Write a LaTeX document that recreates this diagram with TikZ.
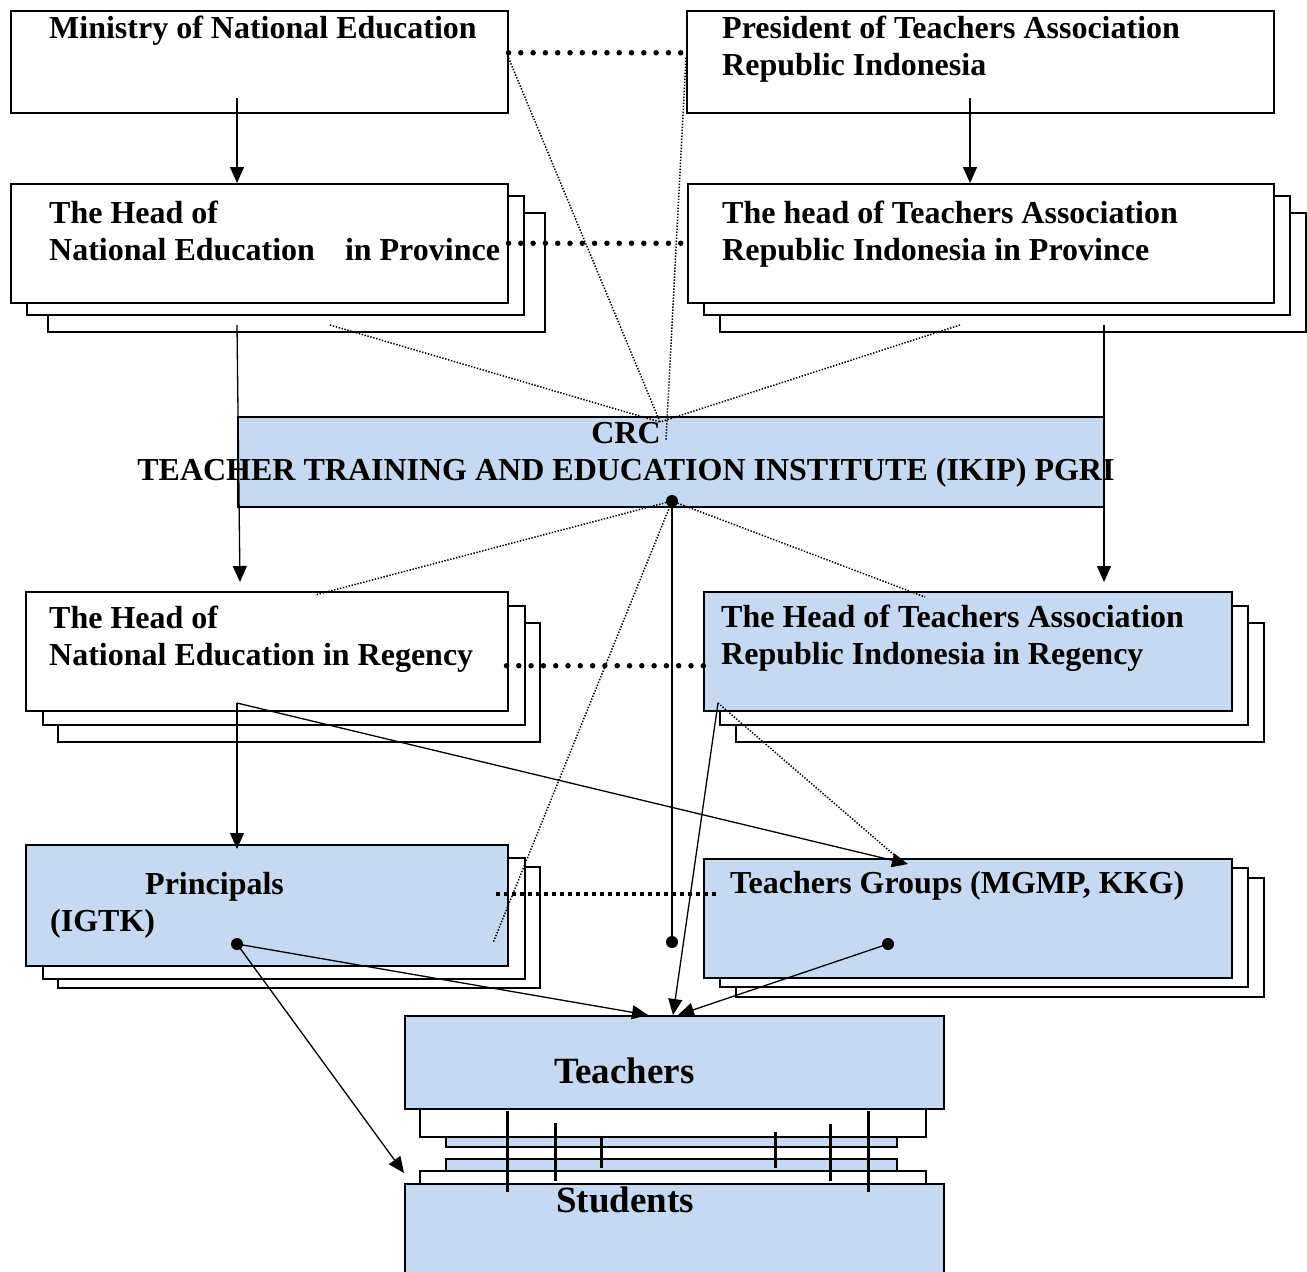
\documentclass[tikz,border=0pt]{standalone}
\usepackage{fontspec}
\setmainfont{Liberation Serif}
\usetikzlibrary{arrows.meta,shadows,positioning}
\definecolor{boxblue}{RGB}{198,217,240}

\begin{document}
\begin{tikzpicture}[x=1pt, y=-1pt,
    box/.style={draw, line width=1.5pt, fill=white, anchor=north west, inner sep=0pt},
    bluebox/.style={box, fill=boxblue},
    every shadow/.style={line width=1.8pt},
    stack/.style n args={4}{
      copy shadow={shadow xshift=#3pt, shadow yshift=-#4pt, fill=white, draw=black, line width=1.8pt},
      copy shadow={shadow xshift=#1pt, shadow yshift=-#2pt, fill=white, draw=black, line width=1.8pt}},
    sheet/.style={line width=1.5pt},
    lbl/.style={anchor=base west, inner sep=0pt, text width=520pt, align=flush left, font=\fontsize{32}{37}\selectfont\bfseries},
    crclbl/.style={anchor=base, inner sep=0pt, text width=1000pt, align=flush center, font=\fontsize{32}{37}\selectfont\bfseries},
    biglbl/.style={anchor=base west, inner sep=0pt, font=\fontsize{37}{40}\selectfont\bfseries},
    dot/.style={circle, fill, inner sep=0pt, minimum size=12pt},
    arr/.style={line width=1.3pt, -{Triangle[length=16pt,width=14pt]}},
    link/.style={line width=1.3pt},
    fine/.style={line width=1.5pt, dash pattern=on 1.4pt off 1.6pt},
    peer/.style={line width=5.5pt, line cap=round, dash pattern=on 0pt off 12.3pt},
    square peer/.style={line width=4pt, dash pattern=on 4pt off 4pt},
    tie/.style={line width=3pt}
  ]
  \useasboundingbox (0,0) rectangle (1307,1272);

  \node[box, minimum width=497pt, minimum height=102pt] (min) at (10,10) {};
  \node[box, minimum width=587pt, minimum height=102pt] (pres) at (686,10) {};
  \node[box, stack={16.5}{12.5}{37}{29.5}, minimum width=497pt, minimum height=119pt] (provL) at (10,183) {};
  \node[box, stack={16}{12.5}{32}{29.5}, minimum width=586pt, minimum height=119pt] (provR) at (687,183) {};
  \node[bluebox, minimum width=866pt, minimum height=90pt] (crc) at (237,416) {};
  \node[box, stack={17}{14.5}{32}{31.5}, minimum width=482pt, minimum height=119pt] (regL) at (25,591) {};
  \node[bluebox, stack={16.5}{14}{32}{31}, minimum width=528pt, minimum height=119pt] (regR) at (703,591) {};
  \node[bluebox, stack={17}{13}{32}{22.5}, minimum width=482pt, minimum height=121pt] (pri) at (25,844) {};
  \node[bluebox, stack={16.5}{9.5}{32}{19.5}, minimum width=528pt, minimum height=119pt] (tg) at (703,858) {};

  \draw[sheet, fill=boxblue] (446,1100) rectangle (897,1147);
  \draw[sheet, fill=white] (420,1100) rectangle (926,1137);
  \node[bluebox, minimum width=539pt, minimum height=93pt] (teach) at (404,1015) {};
  \draw[sheet, fill=boxblue] (446,1159) rectangle (897,1200);
  \draw[sheet, fill=white] (420,1171) rectangle (926,1200);
  \node[bluebox, minimum width=539pt, minimum height=115pt] (stud) at (404,1183) {};

  \node[dot] (hub) at (672,501) {};
  \node[dot] (hubFoot) at (672,942) {};
  \node[dot] (priDot) at (237,944) {};
  \node[dot] (tgDot) at (888,944) {};

  \coordinate (minOut) at (237,98);
  \coordinate (presOut) at (970,98);
  \coordinate (provLOut) at (237,325);
  \coordinate (provROut) at (1104,325);
  \coordinate (regLIn) at (240,582);
  \coordinate (regRIn) at (1104,582);
  \coordinate (regLOut) at (237,703);
  \coordinate (regROut) at (718,703);
  \coordinate (tgIn) at (908,864);
  \coordinate (tgTop) at (900,860);
  \coordinate (teachL) at (648,1015);
  \coordinate (teachM) at (673,1015);
  \coordinate (teachR) at (678,1015);
  \coordinate (studIn) at (404,1173);
  \coordinate (crcTop) at (660,422);
  \coordinate (crcTopR) at (666,440);
  \coordinate (provLFoot) at (330,325);
  \coordinate (provRFoot) at (960,325);
  \coordinate (regLTop) at (315,595);
  \coordinate (regRTop) at (925,597);
  \coordinate (priEdge) at (493,943);

  \draw[arr] (minOut) -- (minOut |- provL.north);
  \draw[arr] (presOut) -- (presOut |- provR.north);
  \draw[arr] (provLOut) -- (regLIn);
  \draw[arr] (provROut) -- (regRIn);
  \draw[arr] (regLOut) -- ([yshift=-5pt]regLOut |- pri.north);
  \draw[arr] (regLOut) -- (tgIn);
  \draw[arr] (regROut) -- (teachM);
  \draw[arr] (priDot.center) -- (teachL);
  \draw[arr] (priDot.center) -- (studIn);
  \draw[arr] (tgDot.center) -- (teachR);
  \draw[link] (hub.center) -- (hubFoot.center);

  \draw[fine] ([yshift=4pt]min.east) -- (crcTop);
  \draw[fine] ([yshift=4pt]pres.west) -- (crcTopR);
  \draw[fine] (provLFoot) -- (crcTop);
  \draw[fine] (provRFoot) -- (crcTop);
  \draw[fine] (hub.center) -- (regLTop);
  \draw[fine] (hub.center) -- (regRTop);
  \draw[fine] (hub.center) -- (priEdge);
  \draw[fine] (regROut) -- (tgTop);

  \draw[peer] ([yshift=9pt]min.east) -- ([yshift=9pt]pres.west);
  \draw[peer] (provL.east) -- ([xshift=-6pt]provR.west);
  \draw[peer] ([xshift=-2pt,yshift=-14.5pt]regL.east) -- ([xshift=4pt,yshift=-14.5pt]regR.west);
  \draw[square peer] ([xshift=-13pt,yshift=11.5pt]pri.east) -- ([xshift=15pt,yshift=24.5pt]tg.west);

  \foreach \x/\ya/\yb in {507/1111/1192, 555/1123/1181, 601/1137/1168, 775/1132/1168, 830/1124/1181, 868/1111/1192}
    \draw[tie] (\x,\ya) -- (\x,\yb);

  \node[lbl] (minTxt) at (49,38) {Ministry of National Education};
  \node[lbl] (presTxt) at (722,38) {President of Teachers Association\\Republic Indonesia};
  \node[lbl] (provLTxt) at (49,223) {The Head of\\National Education\hspace{22pt} in Province};
  \node[lbl] (provRTxt) at (722,223) {The head of Teachers Association\\Republic Indonesia in Province};
  \node[crclbl] (crcTxt) at (626,443) {CRC\\TEACHER TRAINING AND EDUCATION INSTITUTE (IKIP) PGRI};
  \node[lbl] (regLTxt) at (49,628) {The Head of\\National Education in Regency};
  \node[lbl] (regRTxt) at (721,627) {The Head of Teachers Association\\Republic Indonesia in Regency};
  \node[lbl] (priTxt) at (50,894) {\hspace*{95pt}Principals\\(IGTK)};
  \node[lbl] (tgTxt) at (730,893) {Teachers Groups (MGMP, KKG)};
  \node[biglbl] (teachTxt) at (554,1083) {Teachers};
  \node[biglbl] (studTxt) at (556,1212) {Students};
\end{tikzpicture}
\end{document}
